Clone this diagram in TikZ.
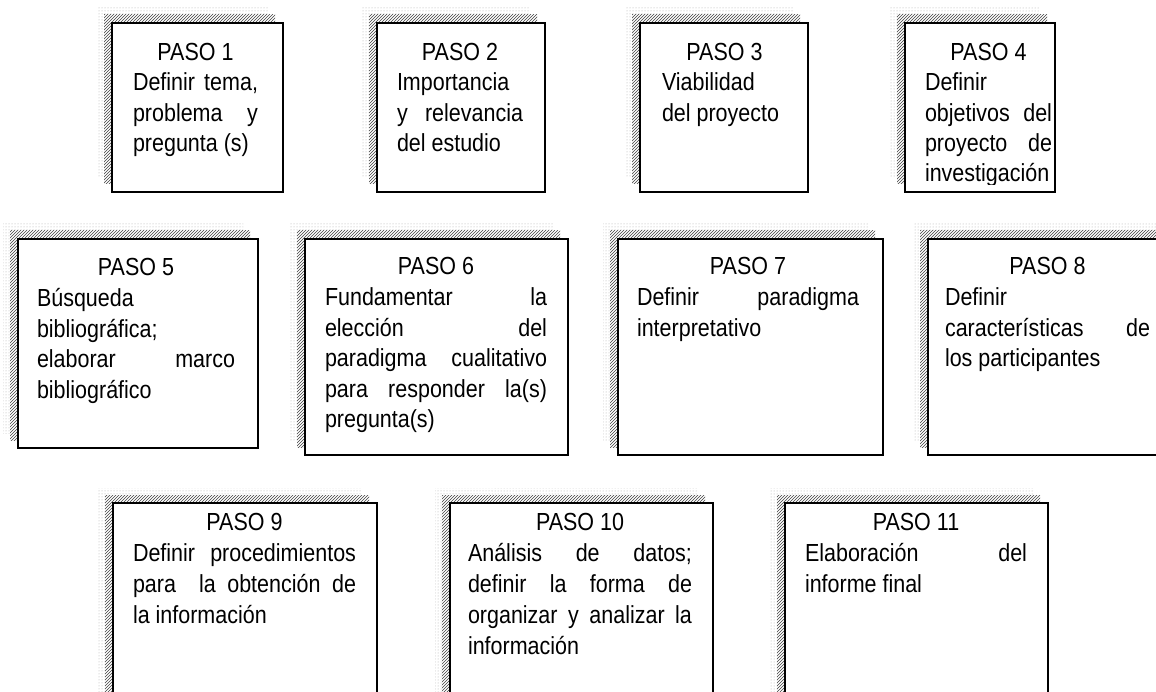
\documentclass[tikz,border=0pt]{standalone}
\usepackage{fontspec}
\usetikzlibrary{patterns}
\newfontfamily\pasofont{Liberation Sans}[FakeStretch=0.87]
\newcommand\myc[1]{\hbox to\hsize{\hfil#1\hfil}}
\newcommand\myj[1]{\hbox to\hsize{\spaceskip=0.25em plus 1fil\relax#1}}
\newcommand\myl[1]{\hbox{#1}}
\def\rowskip{30.4}
% #1 name, #2 x1, #3 y1, #4 x2, #5 y2, #6 text x, #7 text width, #8 first baseline, #9 text
\newcommand\pasobox[9]{%
  \fill[dotshadow] (#2-15,#3-15) rectangle (#4-15,#5-15);
  \fill[white] (#2-8,#3-8) rectangle (#4-8,#5-8);
  \fill[hatchshadow] (#2-8,#3-8) rectangle (#4-8,#5-8);
  \node[pasoframe, minimum width={(#4-#2)*1pt}, minimum height={(#5-#3)*1pt}] (#1) at (#2,#3) {};
  \begin{scope}
    \clip (#2+2,#3+2) rectangle (#4-2,#5-7);
    \node[pasotext] (#1t) at (#6,#8) {\vtop{\hsize=#7pt #9}};
  \end{scope}
}
\begin{document}
\begin{tikzpicture}[x=1pt,y=-1pt,
  dotshadow/.style={pattern=dots, pattern color=gray!65},
  hatchshadow/.style={pattern=north east lines, pattern color=black!75},
  pasoframe/.style={draw=black, line width=2.6pt, fill=white, anchor=north west, inner sep=0pt, outer sep=0pt},
  pasotext/.style={anchor=base west, inner sep=0pt, outer sep=0pt, text=black,
    font={\pasofont\fontsize{24.7}{\rowskip}\selectfont}}]
\useasboundingbox (0,0) rectangle (1156,692);
\clip (0,0) rectangle (1156,692);
\fill[white] (0,0) rectangle (1156,692);
% row 1
\def\rowskip{30.3}
\pasobox{p1}{112}{23}{283}{192}{133}{125}{60.5}{\myc{PASO 1}\myj{Definir tema,}\myj{problema y}\myl{pregunta (s)}}
\pasobox{p2}{377}{23}{545}{192}{397}{126}{60.5}{\myc{PASO 2}\myl{Importancia}\myj{y relevancia}\myl{del estudio}}
\pasobox{p3}{640}{23}{808}{192}{662}{125}{60.5}{\myc{PASO 3}\myl{Viabilidad}\myl{del proyecto}}
\pasobox{p4}{905}{23}{1055}{192}{925}{127}{60.5}{\myc{PASO 4}\myl{Definir}\myj{objetivos del}\myj{proyecto de}\myl{investigación}}
% row 2
\def\rowskip{30.6}
\pasobox{p5}{18}{239}{258}{448}{37}{198}{276}{\myc{PASO 5}\myl{Búsqueda}\myl{bibliográfica;}\myj{elaborar marco}\myl{bibliográfico}}
\pasobox{p6}{305}{239}{568}{455}{325}{222}{275}{\myc{PASO 6}\myj{Fundamentar la}\myj{elección del}\myj{paradigma cualitativo}\myj{para responder la(s)}\myl{pregunta(s)}}
\pasobox{p7}{618}{239}{883}{455}{637}{222}{275}{\myc{PASO 7}\myj{Definir paradigma}\myl{interpretativo}}
\pasobox{p8}{928}{239}{1171}{455}{945}{205}{275}{\myc{PASO 8}\myl{Definir}\myj{características de}\myl{los participantes}}
% row 3
\def\rowskip{31}
\pasobox{p9}{113}{503}{377}{720}{133}{223}{530}{\myc{PASO 9}\myj{Definir procedimientos}\myj{para\ \ la obtención de}\myl{la información}}
\pasobox{p10}{450}{503}{713}{720}{468}{224}{530}{\myc{PASO 10}\myj{Análisis de datos;}\myj{definir la forma de}\myj{organizar y analizar la}\myl{información}}
\pasobox{p11}{785}{503}{1048}{720}{805}{222}{530}{\myc{PASO 11}\myj{Elaboración del}\myl{informe final}}
\end{tikzpicture}
\end{document}
